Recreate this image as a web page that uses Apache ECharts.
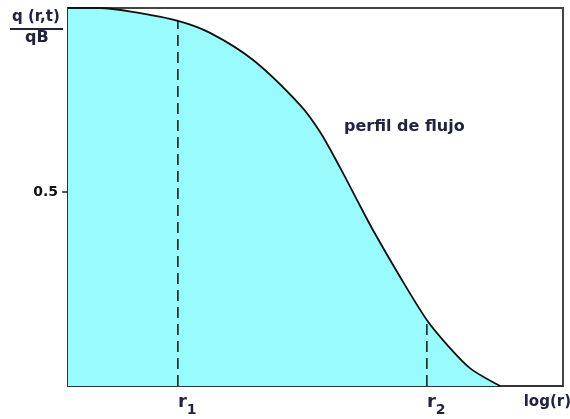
<!DOCTYPE html>
<html>
<head>
<meta charset="utf-8">
<script src="https://cdn.jsdelivr.net/npm/echarts@6/dist/echarts.min.js"></script>
<style>
  html, body { margin: 0; padding: 0; background: #fff; }
  #chart { width: 570px; height: 419px; }
</style>
</head>
<body>
<div id="chart"></div>
<script>
// Flow profile q(r,t)/qB against log(r), in relative units along the axis
const logR = [0, 6.5, 13.1, 22.2, 28.7, 37.4, 46.9, 50.9, 55.0, 58.4, 61.6, 67.1, 72.5, 76.6, 81.2, 87.3];
const qRatio = [0.974, 0.974, 0.964, 0.941, 0.910, 0.840, 0.724, 0.655, 0.562, 0.479, 0.402, 0.281, 0.170, 0.106, 0.046, 0];

// Marked radii and their axis labels
const radii = [22.2, 72.5];
const radiusLabels = ['r1', 'r2'];
const yTicks = [0.5];
const yTickLabels = ['0.5'];

const xMax = 100;
const yMax = 0.974;

const profile = logR.map((x, i) => [x, qRatio[i]]);
const qAt = x => qRatio[logR.indexOf(x)];

const ink = '#222244';
const chart = echarts.init(document.getElementById('chart'));

const dashed = radii.map(r => ({
  type: 'line',
  data: [[r, 0], [r, qAt(r)]],
  symbol: 'none',
  silent: true,
  z: 3,
  lineStyle: { color: '#111', width: 1.5, type: [11, 6] }
}));

chart.setOption({
  animation: false,
  grid: {
    left: 68, right: 7, top: 8, bottom: 33,
    containLabel: false, outerBoundsMode: 'none',
    show: true, borderColor: '#444', borderWidth: 2
  },
  xAxis: {
    type: 'value', min: 0, max: xMax,
    name: 'log(r)', nameLocation: 'end', nameGap: 8,
    nameTextStyle: {
      color: ink, fontFamily: 'DejaVu Sans', fontWeight: 'bold', fontSize: 15,
      align: 'right', verticalAlign: 'top', padding: [9, 0, 0, 0]
    },
    splitLine: { show: false },
    axisLine: { lineStyle: { color: '#333', width: 2 } },
    axisTick: { show: false },
    axisLabel: {
      customValues: radii,
      margin: 7,
      align: 'left',
      formatter: v => {
        const k = radiusLabels[radii.indexOf(v)];
        return '{r|' + k.charAt(0) + '}{s|' + k.slice(1) + '}';
      },
      rich: {
        r: { fontFamily: 'DejaVu Sans', fontWeight: 'bold', fontSize: 18, color: ink, verticalAlign: 'top' },
        s: { fontFamily: 'DejaVu Sans', fontWeight: 'bold', fontSize: 14, color: ink, padding: [10, 0, 0, 0] }
      }
    }
  },
  yAxis: {
    type: 'value', min: 0, max: yMax,
    splitLine: { show: false },
    axisLine: { lineStyle: { color: '#333', width: 2 } },
    axisTick: { customValues: yTicks, length: 6, lineStyle: { color: '#222', width: 1.5 } },
    axisLabel: {
      customValues: yTicks,
      margin: 10,
      formatter: v => yTickLabels[yTicks.indexOf(v)],
      color: '#111', fontFamily: 'DejaVu Sans', fontWeight: 'bold', fontSize: 14
    }
  },
  graphic: [
    { type: 'text', left: 12, top: 10,
      style: { text: 'q (r,t)', fill: ink, font: 'bold 15px "DejaVu Sans"' } },
    { type: 'line', shape: { x1: 10, y1: 29, x2: 63, y2: 29 },
      style: { stroke: ink, lineWidth: 2 } },
    { type: 'text', left: 25, top: 30,
      style: { text: 'qB', fill: ink, font: 'bold 16px "DejaVu Sans"' } },
    { type: 'text', left: 344, top: 119,
      style: { text: 'perfil de flujo', fill: ink, font: 'bold 16px "DejaVu Sans"' } }
  ],
  series: [
    {
      type: 'line',
      data: profile,
      symbol: 'none',
      smooth: 0.3,
      z: 2,
      lineStyle: { color: '#111', width: 1.8 },
      areaStyle: { color: '#99fcfc', opacity: 1 }
    },
    ...dashed
  ]
});
</script>
</body>
</html>
